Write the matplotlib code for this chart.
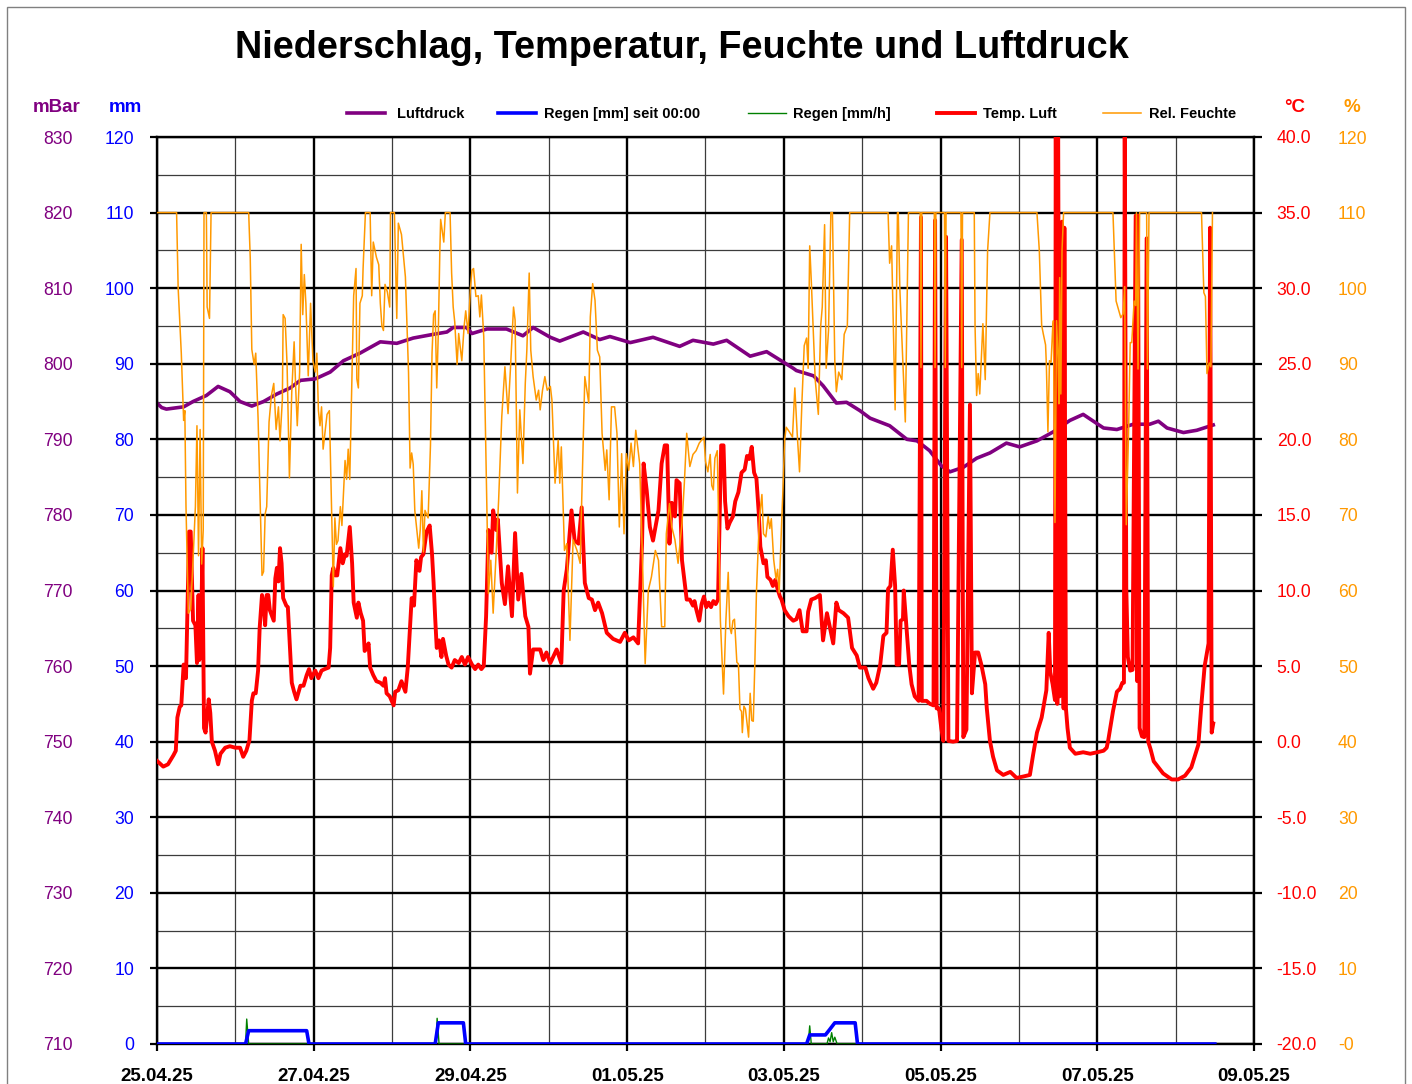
import numpy as np
import matplotlib
matplotlib.use('Agg')
import matplotlib.pyplot as plt
from matplotlib.lines import Line2D
from matplotlib.patches import Rectangle

plt.rcParams['font.family'] = ['Liberation Sans', 'DejaVu Sans']

# ---------------- data (time = days since 25.04.25 00:00) ----------------
x_labels = ['25.04.25', '27.04.25', '29.04.25', '01.05.25', '03.05.25',
            '05.05.25', '07.05.25', '09.05.25']

p_ticks = list(range(710, 831, 10))
mm_ticks = list(range(0, 121, 10))
t_ticks = list(range(-20, 41, 5))
t_labels = ['%.1f' % v for v in t_ticks]
h_ticks = list(range(0, 121, 10))
h_labels = ['-0'] + [str(v) for v in h_ticks[1:]]

press_t = [0.0, 0.06, 0.12, 0.34, 0.46, 0.63, 0.78, 0.93, 1.06, 1.21, 1.36, 1.53, 1.70,
           1.83, 2.02, 2.21, 2.38, 2.59, 2.85, 3.06, 3.27, 3.53, 3.70, 3.78, 3.95, 4.02,
           4.21, 4.46, 4.67, 4.80, 5.02, 5.14, 5.44, 5.65, 5.78, 6.04, 6.33, 6.67, 6.84,
           7.10, 7.27, 7.57, 7.78, 7.95, 8.12, 8.16, 8.38, 8.50, 8.67, 8.80, 8.97, 9.10,
           9.35, 9.57, 9.70, 9.86, 10.01, 10.12, 10.29, 10.46, 10.63, 10.84, 11.01, 11.23,
           11.44, 11.65, 11.82, 12.08, 12.25, 12.46, 12.67, 12.78, 12.89, 13.10, 13.27, 13.48]
press_v = [794.8, 794.2, 794.0, 794.3, 795.0, 795.8, 797.0, 796.3, 795.0, 794.4, 795.0,
           796.0, 796.8, 797.8, 798.0, 798.9, 800.4, 801.4, 802.9, 802.7, 803.4, 803.9,
           804.2, 804.8, 804.8, 804.0, 804.6, 804.6, 803.7, 804.8, 803.5, 803.0, 804.2,
           803.2, 803.6, 802.8, 803.5, 802.3, 803.1, 802.6, 803.1, 801.0, 801.6, 800.5,
           799.4, 799.1, 798.4, 797.1, 794.8, 794.9, 793.8, 792.8, 791.8, 790.0, 789.8,
           788.5, 786.5, 785.7, 786.3, 787.5, 788.2, 789.5, 789.0, 789.8, 791.0, 792.5,
           793.3, 791.5, 791.3, 792.0, 792.0, 792.4, 791.5, 790.9, 791.2, 791.9]

rain_mm_t = [0, 1.13, 1.17, 1.91, 1.94, 3.55, 3.59, 3.91, 3.94, 8.29, 8.33, 8.53, 8.58,
             8.65, 8.91, 8.94, 13.5]
rain_mm_v = [0, 0, 1.76, 1.76, 0, 0, 2.8, 2.8, 0, 0, 1.2, 1.2, 1.85, 2.8, 2.8, 0, 0]

rain_h_t = [0, 1.13, 1.145, 1.17, 3.56, 3.575, 3.60, 8.31, 8.33, 8.35, 8.55, 8.57, 8.59,
            8.61, 8.63, 8.65, 8.68, 13.5]
rain_h_v = [0, 0, 3.3, 0, 0, 3.4, 0, 0, 2.4, 0, 0, 0.8, 0.3, 1.5, 0.3, 0.9, 0, 0]

temp_t = [0.0, 0.08, 0.14, 0.21, 0.24, 0.26, 0.29, 0.31, 0.34, 0.37, 0.38, 0.41, 0.43,
          0.46, 0.49, 0.51, 0.53, 0.54, 0.56, 0.58, 0.60, 0.62, 0.66, 0.68, 0.70, 0.74,
          0.78, 0.81, 0.87, 0.93, 1.00, 1.06, 1.10, 1.14, 1.18, 1.21, 1.23, 1.26, 1.29,
          1.31, 1.34, 1.36, 1.38, 1.40, 1.42, 1.44, 1.49, 1.51, 1.53, 1.55, 1.57, 1.59,
          1.61, 1.65, 1.67, 1.72, 1.75, 1.78, 1.83, 1.87, 1.91, 1.94, 1.97, 2.02, 2.06,
          2.10, 2.14, 2.19, 2.21, 2.23, 2.25, 2.27, 2.30, 2.34, 2.37, 2.40, 2.42, 2.46,
          2.49, 2.51, 2.55, 2.57, 2.60, 2.63, 2.65, 2.68, 2.70, 2.72, 2.76, 2.80, 2.85,
          2.89, 2.91, 2.93, 2.97, 3.02, 3.04, 3.08, 3.12, 3.17, 3.20, 3.22, 3.25, 3.28,
          3.31, 3.35, 3.37, 3.40, 3.44, 3.48, 3.51, 3.53, 3.55, 3.57, 3.60, 3.63, 3.65,
          3.69, 3.72, 3.76, 3.80, 3.85, 3.89, 3.93, 3.97, 4.02, 4.06, 4.10, 4.14, 4.17,
          4.20, 4.23, 4.27, 4.29, 4.33, 4.35, 4.40, 4.44, 4.48, 4.53, 4.57, 4.61, 4.65,
          4.70, 4.74, 4.76, 4.80, 4.89, 4.93, 4.97, 5.02, 5.10, 5.16, 5.19, 5.23, 5.29,
          5.33, 5.38, 5.42, 5.46, 5.51, 5.55, 5.59, 5.63, 5.68, 5.74, 5.82, 5.91, 5.97,
          6.02, 6.08, 6.14, 6.19, 6.21, 6.25, 6.29, 6.33, 6.40, 6.44, 6.48, 6.51, 6.54,
          6.57, 6.61, 6.63, 6.67, 6.70, 6.76,
          6.80, 6.84, 6.86, 6.88, 6.92, 6.95, 6.98, 7.01, 7.04, 7.07, 7.10, 7.13, 7.16,
          7.18, 7.20, 7.23, 7.25, 7.28, 7.31, 7.35, 7.38, 7.42, 7.46, 7.50, 7.53, 7.56,
          7.59, 7.62, 7.65, 7.68, 7.70, 7.74, 7.77, 7.79, 7.83, 7.86, 7.89, 7.92, 7.95,
          7.97, 8.01, 8.06, 8.12, 8.16, 8.20, 8.24, 8.29, 8.31, 8.35,
          8.40, 8.46, 8.50, 8.55, 8.59, 8.63, 8.67, 8.70, 8.76, 8.82, 8.87, 8.93, 8.97,
          9.04, 9.08, 9.14, 9.18,
          9.23, 9.27, 9.31, 9.33, 9.36, 9.39, 9.42, 9.44, 9.47, 9.49, 9.52, 9.53, 9.57,
          9.60, 9.63, 9.67, 9.72, 9.75, 9.76, 9.82, 9.865, 9.91, 9.93, 9.95, 9.98, 10.01,
          10.035, 10.07, 10.10, 10.16, 10.21, 10.27, 10.29, 10.33, 10.375, 10.40, 10.44,
          10.48, 10.52, 10.57, 10.59, 10.63, 10.67,
          10.72, 10.80, 10.89, 10.97, 11.06, 11.14, 11.18, 11.23,
          11.29, 11.35, 11.38, 11.40, 11.43, 11.46, 11.47, 11.49, 11.50, 11.52, 11.55,
          11.57, 11.58, 11.60, 11.62, 11.65, 11.72, 11.82, 11.91, 12.00, 12.08, 12.12,
          12.14, 12.20, 12.25, 12.29, 12.32, 12.34, 12.35, 12.37, 12.39, 12.42, 12.45,
          12.49, 12.51, 12.52, 12.54, 12.57, 12.60, 12.63, 12.65, 12.68, 12.72, 12.78,
          12.84, 12.95, 13.03, 13.12, 13.20, 13.29, 13.33, 13.37, 13.42, 13.44, 13.46, 13.48]
temp_v = [-1.27, -1.65, -1.5, -0.9, -0.6, 1.6, 2.3, 2.4, 5.1, 4.2, 6.7, 13.9, 13.9,
          8.0, 7.7, 5.2, 9.7, 5.4, 6.5, 12.8, 0.9, 0.6, 2.8, 1.9, 0.0, -0.6,
          -1.5, -0.8, -0.4, -0.3, -0.4, -0.4, -1.0, -0.6, 0.1, 2.7, 3.2, 3.2, 4.7,
          7.5, 9.7, 9.2, 7.7, 9.7, 9.7, 8.7, 8.0, 10.8, 11.5, 10.6, 12.8, 11.8,
          9.5, 9.0, 8.9, 3.9, 3.3, 2.8, 3.7, 3.7, 4.4, 4.8, 4.2, 4.7, 4.2,
          4.7, 4.8, 4.9, 6.2, 11.0, 11.5, 11.0, 11.0, 12.8, 11.8, 12.4, 12.3, 14.2,
          11.8, 9.2, 8.2, 9.2, 8.5, 8.0, 6.0, 6.2, 6.5, 4.9, 4.4, 4.0, 3.9,
          3.7, 4.2, 3.2, 3.0, 2.4, 3.3, 3.4, 4.0, 3.3, 4.9, 6.7, 9.5, 9.0,
          12.0, 11.3, 12.2, 12.4, 13.9, 14.3, 12.4, 10.5, 8.2, 6.2, 6.7, 5.6, 6.8,
          5.7, 5.1, 4.9, 5.4, 5.2, 5.6, 5.1, 5.6, 5.1, 4.8, 5.1, 4.8, 5.0,
          8.3, 14.0, 12.5, 15.3, 14.0, 14.7, 10.5, 9.1, 11.6, 8.3, 13.8, 9.4, 11.1,
          8.3, 7.6, 4.5, 6.1, 6.1, 5.4, 5.9, 5.2, 6.1, 5.2, 10.0, 11.4, 15.3,
          13.3, 13.1, 15.5, 10.5, 9.5, 9.4, 8.7, 9.2, 8.5, 7.2, 6.8, 6.6, 7.2,
          6.7, 6.9, 6.5, 13.1, 18.4, 16.6, 14.2, 13.3, 15.3, 18.4, 19.6, 19.6, 13.1,
          15.8, 14.9, 17.3, 17.1, 12.0, 9.4,
          9.4, 9.0, 9.3, 8.8, 8.0, 9.1, 9.6, 8.9, 9.2, 8.9, 9.3, 9.1, 9.4,
          14.7, 19.6, 19.6, 15.9, 14.1, 14.5, 14.9, 15.9, 16.5, 17.8, 18.0, 18.9, 18.7,
          19.5, 17.8, 17.4, 15.1, 12.9, 11.8, 12.0, 10.9, 10.7, 10.3, 10.7, 10.1, 9.6,
          9.4, 8.7, 8.3, 8.0, 8.1, 8.7, 7.3, 7.3, 8.6, 9.4,
          9.5, 9.7, 6.7, 8.5, 7.5, 6.5, 9.2, 8.7, 8.5, 8.2, 6.2, 5.7, 4.9,
          4.9, 4.2, 3.5, 3.9,
          5.1, 7.0, 7.2, 10.1, 10.3, 12.7, 10.3, 5.1, 5.1, 8.0, 8.1, 10.0, 7.2,
          5.1, 3.8, 3.0, 2.7, 34.7, 2.7, 2.7, 2.5, 2.4, 34.5, 2.2, 2.2, 0.85,
          0.05, 33.4, 0.05, 0.0, 0.05, 33.2, 0.3, 0.8, 22.3, 3.2, 5.9,
          5.9, 5.1, 3.8, 2.2, 0.05, -1.0,
          -1.9, -2.2, -2.0, -2.4, -2.3, -2.2, -0.9, 0.6,
          1.6, 3.4, 7.2, 4.6, 3.8, 2.75, 42.0, 2.5, 42.0, 3.0, 34.4,
          2.2, 34.0, 2.2, 0.9, -0.4, -0.8, -0.7, -0.8, -0.7, -0.6, -0.4,
          0.1, 2.0, 3.3, 3.5, 3.9, 3.9, 42.0, 10.2, 5.6, 4.7, 4.75,
          34.8, 4.0, 34.8, 0.9, 0.35, 0.3, 33.3, 0.0, -0.5, -1.3, -1.7,
          -2.1, -2.5, -2.5, -2.25, -1.7, -0.2, 2.55, 5.0, 6.5, 34.0, 0.6, 1.2]

hum_t = [0.0, 0.25, 0.27, 0.31, 0.34, 0.355, 0.37, 0.40, 0.43, 0.46, 0.49, 0.51, 0.53,
         0.55, 0.57, 0.59, 0.60, 0.63, 0.64, 0.67, 0.69, 1.17, 1.19, 1.21, 1.24, 1.26,
         1.29, 1.34, 1.36, 1.38, 1.40, 1.43, 1.46, 1.49, 1.52, 1.55, 1.57, 1.60, 1.61,
         1.635, 1.66, 1.69, 1.72, 1.75, 1.77, 1.79, 1.82, 1.84, 1.86, 1.88, 1.90, 1.93,
         1.96, 1.99, 2.02, 2.04, 2.06, 2.08, 2.10, 2.12, 2.17, 2.20, 2.22, 2.25, 2.27,
         2.29, 2.31, 2.34, 2.36, 2.40, 2.42, 2.44, 2.46, 2.49, 2.51, 2.54, 2.55, 2.57,
         2.59, 2.62, 2.63, 2.66, 2.72, 2.74, 2.76, 2.80, 2.83, 2.85, 2.87, 2.89, 2.91,
         2.94, 2.97, 2.98, 3.03, 3.06, 3.08, 3.12, 3.17, 3.21, 3.23, 3.25, 3.27, 3.29,
         3.34, 3.36, 3.38, 3.40, 3.42, 3.44, 3.46, 3.49, 3.51, 3.53, 3.55, 3.57, 3.59,
         3.61, 3.62, 3.66, 3.68, 3.74, 3.76, 3.78, 3.80, 3.83, 3.85, 3.89, 3.92, 3.94,
         3.97, 4.00, 4.02, 4.04, 4.07, 4.10, 4.12, 4.14, 4.17, 4.20, 4.23, 4.26, 4.29,
         4.33, 4.36, 4.40, 4.44, 4.46, 4.48, 4.51, 4.55, 4.57, 4.60, 4.63, 4.67, 4.70,
         4.72, 4.75, 4.77, 4.80, 4.84, 4.87, 4.89, 4.92, 4.95, 4.98, 5.02, 5.04, 5.08,
         5.12, 5.14, 5.16, 5.20, 5.23, 5.27, 5.31, 5.36, 5.40, 5.46, 5.51, 5.53, 5.56,
         5.59, 5.62, 5.65, 5.68, 5.72, 5.74, 5.77, 5.80, 5.84, 5.87, 5.90, 5.93, 5.96,
         5.99, 6.02, 6.05, 6.08, 6.11, 6.16, 6.19, 6.23, 6.27, 6.31, 6.36, 6.40, 6.44,
         6.48, 6.50, 6.54, 6.57, 6.61, 6.65, 6.70, 6.73, 6.76,
         6.80, 6.84, 6.88, 6.92, 6.95, 6.98, 7.00, 7.03, 7.06, 7.08, 7.10, 7.12, 7.15,
         7.165, 7.19, 7.23, 7.26, 7.29, 7.31, 7.33, 7.35, 7.37, 7.40, 7.42, 7.44, 7.46,
         7.47, 7.49, 7.51, 7.55, 7.57, 7.59, 7.61, 7.63, 7.65, 7.67, 7.69, 7.72, 7.74,
         7.77, 7.80, 7.82, 7.84, 7.87, 7.90, 7.92, 7.94, 7.97, 7.99, 8.01, 8.03,
         8.07, 8.11, 8.14, 8.17, 8.20, 8.23, 8.26,
         8.29, 8.31, 8.33, 8.35, 8.40, 8.44, 8.47, 8.49, 8.52, 8.54, 8.57, 8.60, 8.62,
         8.65, 8.67, 8.70, 8.74, 8.77, 8.81, 8.84,
         9.33, 9.35, 9.375, 9.42, 9.45, 9.46, 9.48, 9.55, 9.59,
         9.74, 9.75, 9.76, 9.92, 9.93, 9.94, 10.05, 10.06, 10.07, 10.26, 10.27, 10.28,
         10.43, 10.44, 10.46, 10.48, 10.50, 10.54, 10.57, 10.60, 10.63,
         11.23, 11.26, 11.29, 11.31, 11.34, 11.35, 11.37, 11.39, 11.41, 11.43, 11.44,
         11.46, 11.48, 11.50, 11.51, 11.52, 11.535, 11.55, 11.57,
         12.20, 12.24, 12.27, 12.30, 12.33, 12.35, 12.37, 12.40, 12.42, 12.44, 12.47,
         12.49, 12.50, 12.52, 12.54, 12.63, 12.64, 12.66,
         13.33, 13.36, 13.38, 13.40, 13.43, 13.45, 13.47]
hum_v = [110, 110, 100, 91.4, 82.5, 83.8, 71.1, 57.0, 57.5, 64.1, 71.1, 81.8, 64.6,
         81.3, 63.5, 68, 110, 110, 97.5, 96, 110, 110, 104, 91.9, 89.9, 91.4,
         82.8, 62.0, 62.5, 70.1, 71.1, 82.3, 85.8, 87.4, 81.3, 84.3, 79.8, 85.3, 96.5,
         96, 89.9, 74.9, 86.3, 92.9, 86.8, 81.8, 88.9, 105.8, 96.5, 101.8, 98.0, 88.4,
         98.0, 90.4, 88.9, 91.4, 83.8, 81.8, 84.3, 78.7, 83.3, 83.8, 74.7, 60.5, 69.6,
         66.1, 66.6, 71.1, 68.6, 77.2, 74.7, 78.7, 74.7, 88.9, 99.0, 102.6, 88, 86.8,
         98.0, 99.0, 102.6, 110, 110, 99.0, 106.1, 104.1, 103.1, 98.0, 95.0, 94.4, 100.5,
         99.5, 97.5, 110, 110, 96.0, 108.6, 107.1, 101.5, 88.9, 76.2, 78.2, 76.7, 70.6,
         65.6, 68.1, 73.2, 65.1, 70.6, 70.1, 69.6, 79.2, 91.4, 96.5, 97.0, 86.8, 94.0,
         105.1, 109.1, 106.1, 110, 110, 102.0, 97.5, 95.5, 89.9, 94.0, 90.4, 95.0, 97.0,
         94.0, 100, 102.4, 102.6, 98.9, 99, 96.2, 99.1, 93.6, 76.4, 59.6, 64.0, 57.0,
         65.3, 72.0, 83.0, 89.6, 86.5, 83.4, 89.2, 97.5, 95.8, 72.9, 83.9, 76.8, 87.4,
         91.8, 102.0, 91.8, 88.3, 85.2, 86.5, 83.9, 86.5, 88.3, 86.5, 87.0, 85.2, 74.2,
         79.9, 74.2, 79.0, 65.3, 66.2, 53.4, 66.7, 65.3, 63.6, 88.3, 84.8, 96.2, 100.6,
         98.4, 91.8, 90.9, 80.8, 75.9, 78.6, 72.0, 84.3, 84.3, 80.8, 68.4, 78.1, 67.5,
         78.1, 75.9, 79.5, 76.4, 81.2, 76.8, 66.2, 50.3, 60.0, 61.8, 65.3, 64.0, 55.2,
         55.2, 67.5, 71.5, 68.4, 66.7, 63.6, 68.9, 74.2, 80.8,
         76.4, 78.0, 78.5, 79.5, 79.9, 80.3, 77.1, 75.7, 78.0, 73.9, 73.3, 77.5, 78.5,
         70.6, 56.0, 46.3, 56.0, 62.4, 55.2, 54.3, 56.0, 56.2, 50.5, 50.3, 44.3, 44.0,
         41.2, 44.7, 44.3, 40.6, 46.4, 42.8, 42.7, 50.5, 59.7, 65.0, 69.8, 72.7, 67.5,
         67.1, 69.8, 68.2, 69.5, 64.1, 61.5, 62.8, 59.7, 68.5, 73.8, 79.9, 81.6,
         81.0, 80.3, 86.8, 80.8, 75.7, 84.8, 92.4,
         93.4, 89.4, 105.6, 101.0, 87.9, 83.3, 95.0, 97.5, 108.4, 89.4, 94.4, 110, 110,
         90.4, 86.3, 88.9, 87.9, 93.9, 95.0, 110,
         110, 103.3, 105.6, 83.9, 110, 110, 100, 82.3, 110,
         110, 89.5, 110, 110, 89.5, 110, 110, 89.5, 110, 110, 89.5, 110,
         110, 95, 85.8, 88.7, 86, 95.3, 87.9, 104.9, 110,
         110, 105, 95.1, 94, 92.5, 89.9, 81.0, 90.4, 90.2, 94.6, 95.7,
         69.0, 95.7, 90.4, 84.7, 101.4, 86, 105, 110,
         110, 98.3, 97.2, 96.1, 96.6, 100.2, 68.7, 81.3, 92.8, 92.8, 98.3,
         97.7, 110, 89.3, 110, 110, 89.3, 110,
         110, 99.4, 98.9, 88.7, 90.1, 89.6, 110]

# ---------------- styling ----------------
PURPLE = '#800080'
BLUE = '#0000FF'
GREEN = '#008000'
RED = '#FF0000'
ORANGE = '#FF9900'

W, H = 1412, 1084
fig = plt.figure(figsize=(W / 100, H / 100), dpi=100)
L, R, T, B = 157, 1254, 137, 1044
rect = [L / W, 1 - B / H, (R - L) / W, (B - T) / H]


def fx(px):
    return px / W


def fy(py):
    return 1 - py / H


# pressure axes (base, holds grid)
axP = fig.add_axes(rect)
axP.set_xlim(0, 14)
axP.set_ylim(710, 830)
axP.set_xticks([2 * i for i in range(len(x_labels))])
axP.set_xticklabels(x_labels, fontweight='bold', fontsize=13.5)
axP.set_xticks([2 * i + 1 for i in range(7)], minor=True)
axP.set_yticks(p_ticks)
axP.set_yticklabels([str(v) for v in p_ticks])
axP.set_yticks([v + 5 for v in p_ticks[:-1]], minor=True)
axP.grid(which='major', color='black', lw=1.7)
axP.grid(which='minor', color='#3c3c3c', lw=0.9)
axP.tick_params(axis='y', which='major', direction='out', length=5, width=1.6,
                labelsize=12.7, labelcolor=PURPLE, pad=55.5)
axP.tick_params(which='minor', length=0)
axP.tick_params(axis='x', which='major', direction='out', length=5, width=1.6, pad=12)
for s in ['left', 'bottom', 'top']:
    axP.spines[s].set_linewidth(1.7)
axP.spines['right'].set_visible(False)
axP.plot(press_t, press_v, color=PURPLE, lw=2.6, solid_joinstyle='round')

# rain axes
axR = axP.twinx()
axR.set_ylim(0, 120)
axR.yaxis.tick_left()
axR.set_yticks(mm_ticks)
axR.set_yticklabels([str(v) for v in mm_ticks])
axR.tick_params(axis='y', length=0, pad=16.5, labelsize=12.7, labelcolor=BLUE)
for s in axR.spines.values():
    s.set_visible(False)
axR.plot(rain_h_t, rain_h_v, color=GREEN, lw=1.0)
axR.plot(rain_mm_t, rain_mm_v, color=BLUE, lw=2.6, solid_joinstyle='round')

# temperature axes
axT = axP.twinx()
axT.set_ylim(-20, 40)
axT.set_yticks(t_ticks)
axT.set_yticklabels(t_labels)
axT.tick_params(axis='y', direction='out', length=5.8, width=1.6, pad=10.5,
                labelsize=12.7, labelcolor=RED)
for s in ['left', 'bottom', 'top']:
    axT.spines[s].set_visible(False)
axT.spines['right'].set_linewidth(1.7)
axT.plot(temp_t, temp_v, color=RED, lw=2.8, solid_joinstyle='round')

# humidity axes
axH = axP.twinx()
axH.set_ylim(0, 120)
axH.set_yticks(h_ticks)
axH.set_yticklabels(h_labels)
axH.tick_params(axis='y', length=0, pad=60.5, labelsize=12.7, labelcolor=ORANGE)
for s in axH.spines.values():
    s.set_visible(False)
axH.plot(hum_t, hum_v, color=ORANGE, lw=1.1)

# ---------------- texts ----------------
fig.text(fx(682), fy(48), 'Niederschlag, Temperatur, Feuchte und Luftdruck',
         ha='center', va='center', fontsize=27.3, fontweight='bold')
fig.text(fx(57), fy(107), 'mBar', ha='center', va='center', fontsize=13.5,
         fontweight='bold', color=PURPLE)
fig.text(fx(125), fy(107), 'mm', ha='center', va='center', fontsize=13.5,
         fontweight='bold', color=BLUE)
fig.text(fx(1295), fy(107), '°C', ha='center', va='center', fontsize=13.5,
         fontweight='bold', color=RED)
fig.text(fx(1352), fy(107), '%', ha='center', va='center', fontsize=13.5,
         fontweight='bold', color=ORANGE)

legend_items = [('Luftdruck', PURPLE, 2.6, 347, 397),
                ('Regen [mm] seit 00:00', BLUE, 2.6, 498, 544),
                ('Regen [mm/h]', GREEN, 1.0, 748, 793),
                ('Temp. Luft', RED, 2.8, 937, 983),
                ('Rel. Feuchte', ORANGE, 1.1, 1103, 1149)]
for label, col, lw, x0, xt in legend_items:
    fig.add_artist(Line2D([fx(x0), fx(x0 + 38)], [fy(113), fy(113)],
                          transform=fig.transFigure, color=col, lw=lw))
    fig.text(fx(xt), fy(114), label, ha='left', va='center',
             fontsize=10.5, fontweight='bold')

fig.add_artist(Rectangle((fx(7), -0.02), fx(1405) - fx(7), fy(7) + 0.02,
                         transform=fig.transFigure, fill=False,
                         edgecolor='#808080', lw=1.0))

fig.savefig('out.png', dpi=100)
